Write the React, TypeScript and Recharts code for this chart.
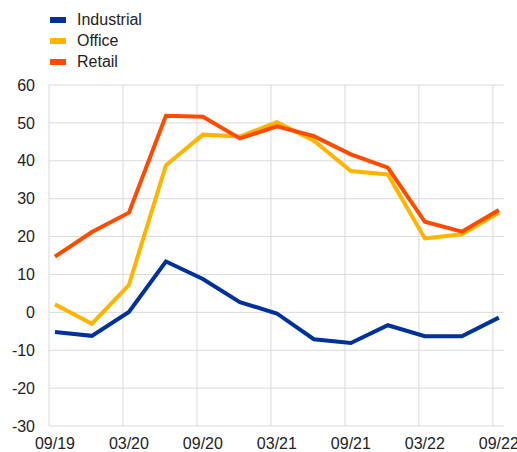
import { LineChart, Line, XAxis, YAxis, CartesianGrid, ReferenceLine, Legend } from 'recharts'

const quarters = ['09/19', '12/19', '03/20', '06/20', '09/20', '12/20', '03/21', '06/21', '09/21', '12/21', '03/22', '06/22', '09/22']
const industrial = [-5.2, -6.2, 0.1, 13.4, 8.8, 2.7, -0.3, -7.1, -8.1, -3.4, -6.3, -6.3, -1.4]
const office = [2.1, -3.0, 7.2, 38.8, 46.9, 46.4, 50.2, 45.3, 37.3, 36.4, 19.5, 20.6, 26.3]
const retail = [14.7, 21.2, 26.3, 51.9, 51.6, 45.9, 49.1, 46.5, 41.7, 38.2, 23.9, 21.3, 27.0]
const yTicks = [-30, -20, -10, 0, 10, 20, 30, 40, 50, 60]

const SERIES = [
  { key: 'Industrial', color: '#003299' },
  { key: 'Office', color: '#ffb400' },
  { key: 'Retail', color: '#ff4b00' },
]

// gridlines sit a little left of the data points
const GRID_SHIFT = 0.16

const data = quarters.map((q, i) => ({
  idx: i,
  label: q,
  Industrial: industrial[i],
  Office: office[i],
  Retail: retail[i],
}))

const labelTicks = quarters.map((_, i) => i).filter((i) => i % 2 === 0)

const FONT = '"Liberation Sans", Arial, sans-serif'

function LegendBox() {
  return (
    <div style={{ fontFamily: FONT, fontSize: 16, color: '#222' }}>
      {SERIES.map((s) => (
        <div key={s.key} style={{ display: 'flex', alignItems: 'center', height: 21 }}>
          <span style={{ display: 'inline-block', width: 16, height: 6, background: s.color, marginRight: 11 }} />
          <span>{s.key}</span>
        </div>
      ))}
    </div>
  )
}

export default function App() {
  return (
    <div style={{ position: 'absolute', left: 0, top: 0 }}>
      {/* legend height (63) is added to the top offset by recharts */}
      <LineChart width={517} height={452} data={data} margin={{ top: 22, right: 13, left: 0, bottom: 0 }}>
        <CartesianGrid vertical={false} stroke="#d9d9d9" />
        {labelTicks.map((t) => (
          <ReferenceLine key={t} x={t - GRID_SHIFT} stroke="#d9d9d9" />
        ))}
        <XAxis
          dataKey="idx"
          type="number"
          domain={[-GRID_SHIFT, 12.14]}
          allowDataOverflow
          ticks={labelTicks}
          tickFormatter={(v: number) => quarters[v]}
          axisLine={false}
          tickLine={false}
          tickSize={0}
          tickMargin={12}
          height={26}
          interval={0}
          tick={{ fill: '#222', fontSize: 16, fontFamily: FONT }}
        />
        <YAxis
          domain={[-30, 60]}
          ticks={yTicks}
          axisLine={false}
          tickLine={false}
          tickSize={0}
          tickMargin={14}
          width={49}
          interval={0}
          tick={{ fill: '#222', fontSize: 16, fontFamily: FONT }}
        />
        <Legend
          verticalAlign="top"
          align="left"
          content={() => <LegendBox />}
          wrapperStyle={{ top: 9, left: 50, width: 'auto' }}
        />
        {SERIES.map((s) => (
          <Line
            key={s.key}
            dataKey={s.key}
            stroke={s.color}
            strokeWidth={4}
            dot={false}
            isAnimationActive={false}
          />
        ))}
      </LineChart>
    </div>
  )
}
